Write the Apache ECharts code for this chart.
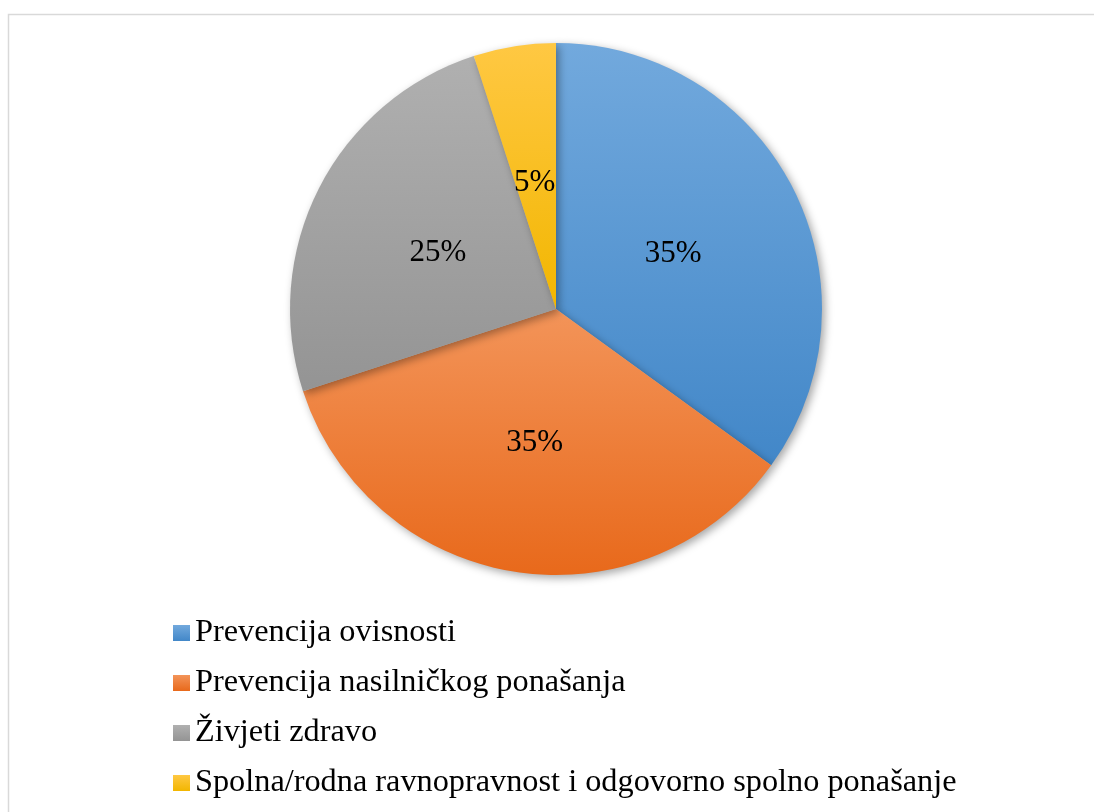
<!DOCTYPE html>
<html>
<head>
<meta charset="utf-8">
<script src="https://cdn.jsdelivr.net/npm/echarts@6/dist/echarts.min.js"></script>
<style>
  html, body { margin: 0; padding: 0; background: #fff; }
  #main { width: 1094px; height: 812px; }
</style>
</head>
<body>
<div id="main"></div>
<script>
// podaci
const categories = [
  "Prevencija ovisnosti",
  "Prevencija nasilničkog ponašanja",
  "Živjeti zdravo",
  "Spolna/rodna ravnopravnost i odgovorno spolno ponašanje"
];
const values = [35, 35, 25, 5];
// boje: gornja i donja boja gradijenta
const topColors = ["#72a9dd", "#f39459", "#b0b0b0", "#ffc843"];
const bottomColors = ["#4287c8", "#e8691b", "#949494", "#f2b600"];
// sitni pomaci oznaka (kao u Excelu)
const labelShift = [[-4, 7], [0, 0], [3, 6], [0, 8]];

const font = "'Liberation Serif', 'Times New Roman', serif";

const chart = echarts.init(document.getElementById("main"));

const option = {
  backgroundColor: "#fff",
  animation: false,
  graphic: [
    {
      // okvir grafikona
      type: "rect",
      shape: { x: 8.5, y: 14.5, width: 1200, height: 900 },
      style: { fill: "none", stroke: "#d9d9d9", lineWidth: 1.5 }
    }
  ],
  legend: {
    orient: "vertical",
    left: 173,
    top: 617,
    padding: 0,
    itemWidth: 17,
    itemHeight: 16,
    itemGap: 18,
    icon: "rect",
    textStyle: {
      fontFamily: font,
      fontSize: 32.3,
      color: "#000",
      lineHeight: 32
    },
    data: categories
  },
  series: [
    {
      type: "pie",
      center: [556, 309],
      radius: [0, 266],
      startAngle: 90,
      clockwise: true,
      silent: true,
      label: {
        show: true,
        position: "inside",
        formatter: "{c}%",
        fontFamily: font,
        fontSize: 31,
        color: "#000"
      },
      labelLine: { show: false },
      itemStyle: {
        shadowBlur: 8,
        shadowOffsetX: 3,
        shadowOffsetY: 3,
        shadowColor: "rgba(0,0,0,0.35)"
      },
      data: categories.map((name, i) => ({
        name: name,
        value: values[i],
        label: { offset: labelShift[i] },
        itemStyle: {
          color: new echarts.graphic.LinearGradient(0, 0, 0, 1, [
            { offset: 0, color: topColors[i] },
            { offset: 1, color: bottomColors[i] }
          ])
        }
      }))
    }
  ]
};

chart.setOption(option);
</script>
</body>
</html>
